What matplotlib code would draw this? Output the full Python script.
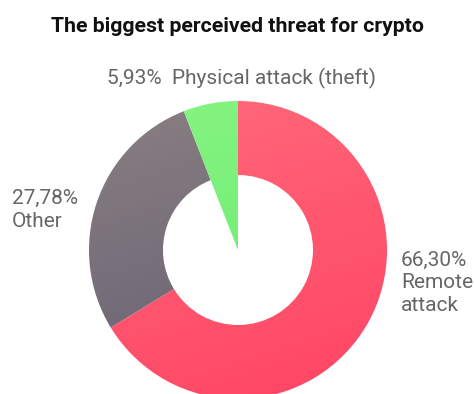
import numpy as np
import matplotlib.pyplot as plt
from matplotlib.colors import LinearSegmentedColormap

plt.rcParams['font.family'] = ['Roboto', 'DejaVu Sans']

labels = ['Remote\nattack', 'Other', 'Physical attack (theft)']
values = [66.30, 27.78, 5.93]
pct_text = ['66,30%', '27,78%', '5,93%']
# gradient end colours for each slice (top -> bottom)
grads = [('#ff6a7a', '#ff4464'), ('#8a8082', '#615b71'), ('#86f580', '#68e874')]

W, H = 474, 394
fig = plt.figure(figsize=(W / 100, H / 100), dpi=100)
ax = fig.add_axes([0, 0, 1, 1])

cx, cy, R, r_in = 238, H - 250, 149, 75

wedges, _ = ax.pie(values, startangle=90, counterclock=False,
                   center=(cx, cy), radius=R)

# ring for the two big slices, the small one stays a full wedge
wedges[0].set_width(R - r_in)
wedges[1].set_width(R - r_in)

gx, gy = np.meshgrid(np.linspace(0, 1, 200), np.linspace(0, 1, 200))
for w, (c1, c2) in zip(wedges, grads):
    w.set_facecolor('none')
    w.set_edgecolor('none')
    cmap = LinearSegmentedColormap.from_list('g', [c1, c2])
    # mostly vertical gradient, slightly tilted
    img = ax.imshow(0.75 * gy + 0.25 * gx, cmap=cmap, origin='upper',
                    extent=(cx - R, cx + R, cy - R, cy + R), zorder=2)
    img.set_clip_path(w)

ax.set_xlim(0, W)
ax.set_ylim(0, H)
ax.set_aspect('equal')
ax.axis('off')

fig.text(0.5, 1 - 26 / H, 'The biggest perceived threat for crypto',
         ha='center', va='center', fontsize=15.3, fontweight='bold', color='#111111')

lab_col = '#666666'
fs = 15
fig.text(107 / W, 1 - 78 / H, pct_text[2] + '  ' + labels[2],
         ha='left', va='center', fontsize=fs, color=lab_col)
fig.text(12 / W, 1 - 210 / H, pct_text[1] + '\n' + labels[1],
         ha='left', va='center', fontsize=fs, color=lab_col, linespacing=1.25)
fig.text(401 / W, 1 - 283 / H, pct_text[0] + '\n' + labels[0],
         ha='left', va='center', fontsize=fs, color=lab_col, linespacing=1.25)

fig.savefig('out.png', dpi=100)
